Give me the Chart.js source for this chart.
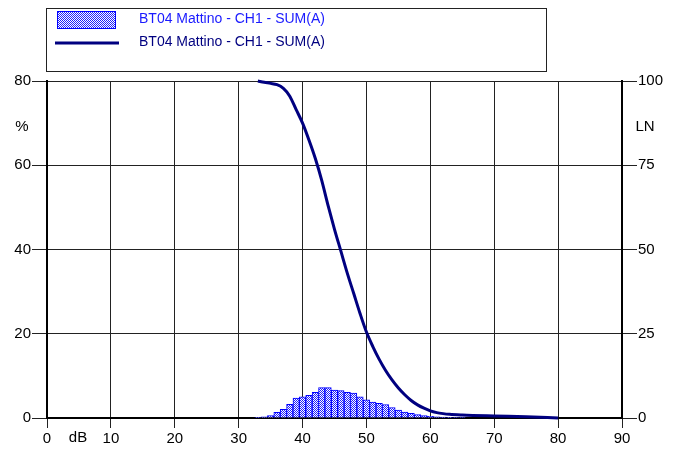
<!DOCTYPE html>
<html>
<head>
<meta charset="utf-8">
<script src="https://cdn.jsdelivr.net/npm/chart.js@4"></script>
<style>
html,body{margin:0;padding:0;background:#fff;}
#wrap{position:relative;width:676px;height:450px;}
</style>
</head>
<body>
<div id="wrap"><canvas id="c"></canvas></div>
<script>
// ---- data ----
const seriesLabel = "BT04 Mattino - CH1 - SUM(A)";
const histDb  = [33,34,35,36,37,38,39,40,41,42,43,44,45,46,47,48,49,50,51,52,53,54,55,56,57,58,59,60,61,62,63,64,65];
const histPct = [0.15,0.25,0.6,1.35,2.05,3.25,4.7,5.05,5.4,6.1,7.2,7.2,6.6,6.5,6.1,5.9,5.0,4.3,3.8,3.5,3.2,2.5,1.9,1.4,1.1,0.8,0.55,0.4,0.3,0.2,0.15,0.1,0.1];
const lnDb  = [33,34,35,36,37,38,39,40,41,42,43,44,45,46,47,48,49,50,51,52,53,54,55,56,57,58,59,60,61,62,63,65,70,75,80];
const lnVal = [100,99.6,99.3,98.9,97.8,95.5,91.5,87.5,82.5,77,70.5,63,56,49.5,43,37,31,25.5,21.2,17.4,14.1,11.3,8.9,6.9,5.2,3.9,2.9,2.1,1.6,1.3,1.1,0.9,0.6,0.35,0];
const xTicks = [0,10,20,30,40,50,60,70,80,90];
const leftTicks = [0,20,40,60,80];
const rightTicks = [0,25,50,75,100];

const FONT = "'Liberation Sans', Arial, sans-serif";
Chart.defaults.font.family = FONT;
Chart.defaults.color = '#000';

// hatched fill pattern
function makePattern(){
  const pc = document.createElement('canvas');
  pc.width = 2; pc.height = 2;
  const g = pc.getContext('2d');
  g.fillStyle = '#ffffff'; g.fillRect(0,0,2,2);
  g.fillStyle = '#2020ff'; g.fillRect(0,0,1,1); g.fillRect(1,1,1,1);
  return document.getElementById('c').getContext('2d').createPattern(pc,'repeat');
}
const pattern = makePattern();

const decor = {
  id:'decor',
  afterDraw(chart){
    const ctx = chart.ctx;
    const ds = chart.data.datasets;
    ctx.save();
    // legend box
    ctx.strokeStyle = '#222'; ctx.lineWidth = 1;
    ctx.strokeRect(46.5, 8.5, 500, 63);
    // item 1 swatch
    ctx.fillStyle = pattern;
    ctx.fillRect(57, 11, 59, 18);
    ctx.strokeStyle = '#0000ff'; ctx.lineWidth = 1;
    ctx.strokeRect(57.5, 11.5, 58, 17);
    // item 2 line
    ctx.strokeStyle = '#000080'; ctx.lineWidth = 3;
    ctx.beginPath(); ctx.moveTo(55, 43); ctx.lineTo(119, 43); ctx.stroke();
    ctx.font = '14px ' + FONT;
    ctx.textBaseline = 'middle'; ctx.textAlign = 'left';
    ctx.fillStyle = '#1a1aff'; ctx.fillText(ds[0].label, 139, 19);
    ctx.fillStyle = '#000080'; ctx.fillText(ds[1].label, 139, 42);
    // axis unit labels
    ctx.fillStyle = '#000';
    ctx.font = '15px ' + FONT;
    ctx.textAlign = 'center';
    ctx.fillText('%', 22, 127);
    ctx.fillText('LN', 645, 127);
    ctx.fillText('dB', 78, 438);
    ctx.restore();
  }
};

new Chart(document.getElementById('c'), {
  type:'bar',
  data:{
    datasets:[
      {
        type:'bar',
        label: seriesLabel,
        data: histDb.map((d,i)=>({x:d, y:histPct[i]})),
        backgroundColor: pattern,
        borderColor:'#0000ff',
        borderWidth:1,
        borderSkipped:'bottom',
        barPercentage:1,
        categoryPercentage:1,
        yAxisID:'y',
        order:1
      },
      {
        type:'line',
        label: seriesLabel,
        data: lnDb.map((d,i)=>({x:d, y:lnVal[i]})),
        borderColor:'#000080',
        borderWidth:3,
        pointRadius:0,
        tension:0.4,
        cubicInterpolationMode:'monotone',
        fill:false,
        clip:false,
        yAxisID:'y2',
        order:0
      }
    ]
  },
  options:{
    responsive:true,
    maintainAspectRatio:false,
    animation:false,
    layout:{padding:{top:81,left:0,right:0,bottom:0}},
    plugins:{legend:{display:false}, tooltip:{enabled:false}},
    scales:{
      x:{
        type:'linear', min:0, max:90, offset:false,
        afterBuildTicks(s){ s.ticks = xTicks.map(v=>({value:v})); },
        afterFit(s){ s.height = 32; },
        grid:{color:'#222', lineWidth:1, tickLength:10, offset:false},
        border:{color:'#000', width:2},
        ticks:{font:{size:15}, padding:2, maxRotation:0}
      },
      y:{
        type:'linear', position:'left', min:0, max:80,
        afterBuildTicks(s){ s.ticks = leftTicks.map(v=>({value:v})); },
        afterFit(s){ s.width = 47; },
        grid:{color:'#222', lineWidth:1, tickLength:15},
        border:{color:'#000', width:2},
        ticks:{font:{size:15}, padding:1}
      },
      y2:{
        type:'linear', position:'right', min:0, max:100,
        afterBuildTicks(s){ s.ticks = rightTicks.map(v=>({value:v})); },
        afterFit(s){ s.width = 54; },
        grid:{drawOnChartArea:false, color:'#222', tickLength:15},
        border:{color:'#000', width:2},
        ticks:{font:{size:15}, padding:1}
      }
    }
  },
  plugins:[decor]
});
</script>
</body>
</html>
